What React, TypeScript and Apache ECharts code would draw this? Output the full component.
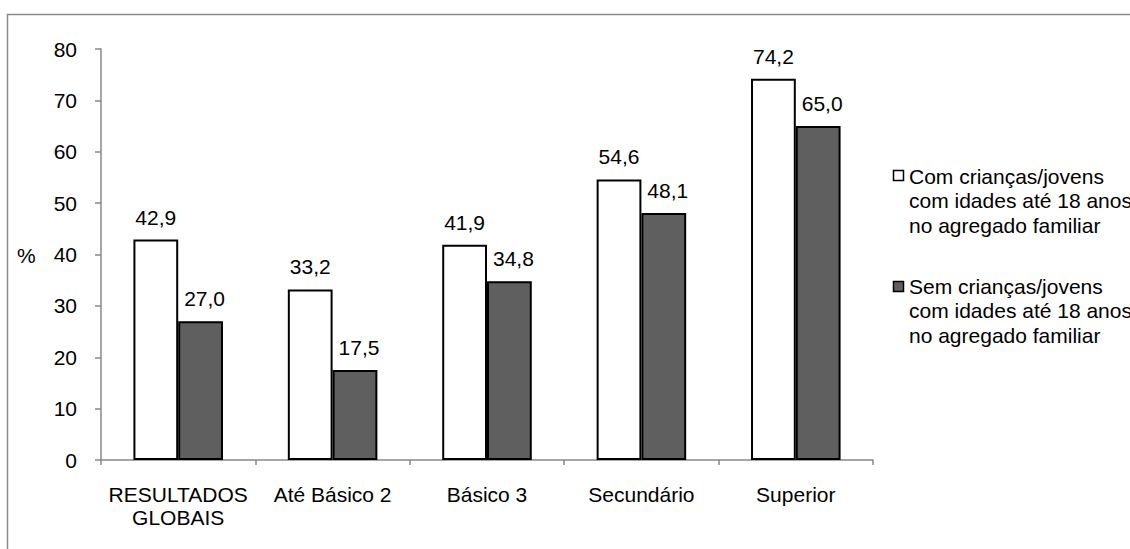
import React, { useEffect, useRef } from "react";
import * as echarts from "echarts";

const categories = ["RESULTADOS\nGLOBAIS", "Até Básico 2", "Básico 3", "Secundário", "Superior"];
const seriesNames = [
  "Com crianças/jovens\ncom idades até 18 anos\nno agregado familiar",
  "Sem crianças/jovens\ncom idades até 18 anos\nno agregado familiar",
];
const withChildren = [42.9, 33.2, 41.9, 54.6, 74.2];
const withoutChildren = [27.0, 17.5, 34.8, 48.1, 65.0];
const seriesColors = ["#ffffff", "#5f5f5f"];

const FONT = "'Liberation Sans', Arial, sans-serif";

export default function App() {
  const ref = useRef<HTMLDivElement>(null);
  useEffect(() => {
    if (!ref.current) return;
    const chart = echarts.init(ref.current, undefined, { renderer: "svg" });
    const fmt = (p: any) => Number(p.value).toFixed(1).replace(".", ",");
    const legendItems: any[] = [];
    const squareTops = [170, 281];
    const textTops = [164, 274];
    seriesNames.forEach((name, i) => {
      legendItems.push({
        type: "rect",
        shape: { x: 893.5, y: squareTops[i] + 0.5, width: 10, height: 10 },
        style: { fill: seriesColors[i], stroke: "#000", lineWidth: 1.5 },
      });
      legendItems.push({
        type: "text",
        x: 909,
        y: textTops[i],
        style: {
          text: name,
          font: `21px ${FONT}`,
          fill: "#000",
          lineHeight: 24.5,
          verticalAlign: "top",
        },
      });
    });
    chart.setOption({
      animation: false,
      backgroundColor: "#fff",
      grid: { left: 101, right: 257, top: 49, bottom: 89, containLabel: false },
      xAxis: {
        type: "category",
        data: categories,
        axisLine: { lineStyle: { color: "#888", width: 1.5 } },
        axisTick: { show: true, length: 5, lineStyle: { color: "#888", width: 1.5 } },
        axisLabel: {
          color: "#000",
          fontSize: 21,
          fontFamily: FONT,
          lineHeight: 23,
          margin: 23,
          interval: 0,
        },
      },
      yAxis: {
        type: "value",
        min: 0,
        max: 80,
        interval: 10,
        splitLine: { show: false },
        axisLine: { show: true, lineStyle: { color: "#888", width: 1.5 } },
        axisTick: { show: true, length: 6, lineStyle: { color: "#888", width: 1.5 } },
        axisLabel: { color: "#000", fontSize: 21, fontFamily: FONT, margin: 24 },
      },
      graphic: [
        {
          type: "rect",
          shape: { x: 7.5, y: 14.5, width: 1200, height: 700 },
          style: { fill: "none", stroke: "#8a8a8a", lineWidth: 1.5 },
          silent: true,
        },
        {
          type: "text",
          x: 17,
          y: 255,
          style: { text: "%", font: `21px ${FONT}`, fill: "#000", verticalAlign: "middle" },
        },
        ...legendItems,
      ],
      series: [
        {
          name: seriesNames[0],
          type: "bar",
          data: withChildren,
          barWidth: "29%",
          barGap: "0%",
          itemStyle: { color: seriesColors[0], borderColor: "#000", borderWidth: 2 },
          label: {
            show: true,
            position: "top",
            distance: 12,
            formatter: fmt,
            color: "#000",
            fontSize: 21,
            fontFamily: FONT,
          },
        },
        {
          name: seriesNames[1],
          type: "bar",
          data: withoutChildren,
          barWidth: "29%",
          barGap: "0%",
          itemStyle: { color: seriesColors[1], borderColor: "#000", borderWidth: 2 },
          label: {
            show: true,
            position: "top",
            distance: 12,
            offset: [4, 0],
            formatter: fmt,
            color: "#000",
            fontSize: 21,
            fontFamily: FONT,
          },
        },
      ],
    });
    return () => chart.dispose();
  }, []);
  return (
    <div
      ref={ref}
      style={{ position: "fixed", left: 0, top: 0, width: 1130, height: 549 }}
    />
  );
}
